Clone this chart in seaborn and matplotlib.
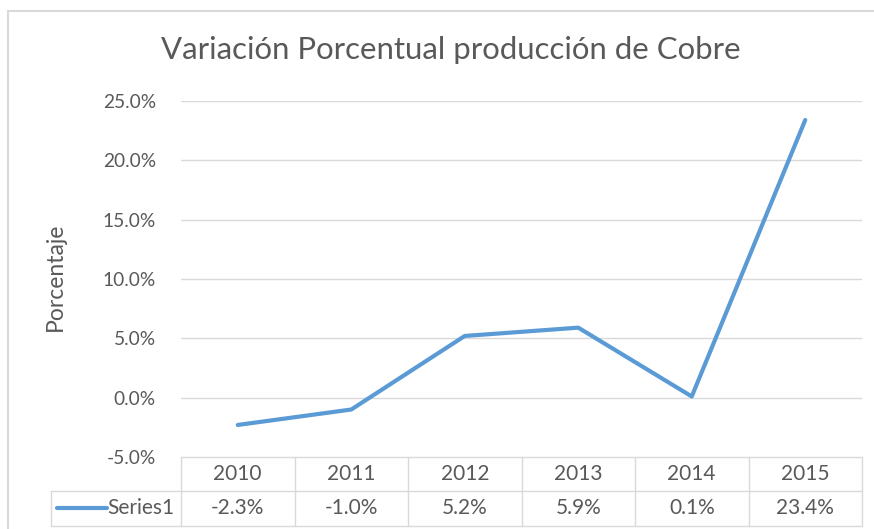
import matplotlib
matplotlib.use("Agg")
import matplotlib.pyplot as plt
import matplotlib.transforms as mtransforms
from matplotlib.lines import Line2D
import pandas as pd
import seaborn as sns

years = ['2010', '2011', '2012', '2013', '2014', '2015']
variacion = [-2.3, -1.0, 5.2, 5.9, 0.1, 23.4]
series_name = 'Series1'
y_ticks = [-5, 0, 5, 10, 15, 20, 25]

TEXT = '#595959'
GRID = '#D9D9D9'
BLUE = '#5B9BD5'

sns.set_theme(style='white')
plt.rcParams['font.family'] = ['Lato', 'DejaVu Sans']

df = pd.DataFrame({'pos': range(len(years)), 'valor': variacion})

fig = plt.figure(figsize=(8.74, 5.29), dpi=100)
ax = fig.add_axes([181 / 874, 1 - 457 / 529, 681 / 874, 356 / 529])

sns.lineplot(data=df, x='pos', y='valor', color=BLUE, linewidth=3,
             solid_capstyle='round', ax=ax)

ax.set_xlim(-0.5, len(years) - 0.5)
ax.set_ylim(y_ticks[0], y_ticks[-1])
ax.set_yticks(y_ticks)
ax.set_yticklabels([f'{v:.1f}%' for v in y_ticks], color=TEXT, fontsize=13.8)
ax.tick_params(axis='y', length=0, pad=18)
ax.set_xticks([])
ax.set_xlabel('')
ax.set_ylabel('Porcentaje', color=TEXT, fontsize=16.5)
ax.yaxis.set_label_coords(-0.169, 0.507)
for t in y_ticks[1:]:
    ax.axhline(t, color=GRID, linewidth=1, zorder=0)
for s in ax.spines.values():
    s.set_visible(False)

# data table below the plot
trans = mtransforms.blended_transform_factory(ax.transData, ax.transAxes)
row1, row2, mid, bot = -0.048, -0.143, -0.0955, -0.194
left_x = -0.1909
lkw = dict(color=GRID, linewidth=1, clip_on=False)
ax.plot([0, 1], [0, 0], transform=ax.transAxes, **lkw)
ax.plot([left_x, 1], [mid, mid], transform=ax.transAxes, **lkw)
ax.plot([left_x, 1], [bot, bot], transform=ax.transAxes, **lkw)
ax.plot([left_x, left_x], [mid, bot], transform=ax.transAxes, **lkw)
for i in range(len(years) + 1):
    ax.plot([i - 0.5, i - 0.5], [0, bot], transform=trans, **lkw)
for i, (yr, v) in enumerate(zip(years, variacion)):
    ax.text(i, row1, yr, transform=trans, ha='center', va='center',
            color=TEXT, fontsize=15)
    ax.text(i, row2, f'{v:.1f}%', transform=trans, ha='center', va='center',
            color=TEXT, fontsize=15)
ax.plot([-0.182, -0.109], [row2, row2], transform=ax.transAxes, color=BLUE,
        linewidth=3, solid_capstyle='round', clip_on=False)
ax.text(-0.009, row2, series_name, transform=ax.transAxes, ha='right',
        va='center', color=TEXT, fontsize=15)

fig.suptitle('Variación Porcentual producción de Cobre', x=451 / 874,
             y=1 - 50 / 529, va='center', color=TEXT, fontsize=22.4)

# outer chart frame
fig.add_artist(Line2D([8 / 874, 8 / 874], [0, 1 - 11 / 529], color=GRID,
                      linewidth=1.5, transform=fig.transFigure))
fig.add_artist(Line2D([8 / 874, 1], [1 - 11 / 529, 1 - 11 / 529], color=GRID,
                      linewidth=1.5, transform=fig.transFigure))

fig.savefig('out.png', dpi=100, facecolor='white')
